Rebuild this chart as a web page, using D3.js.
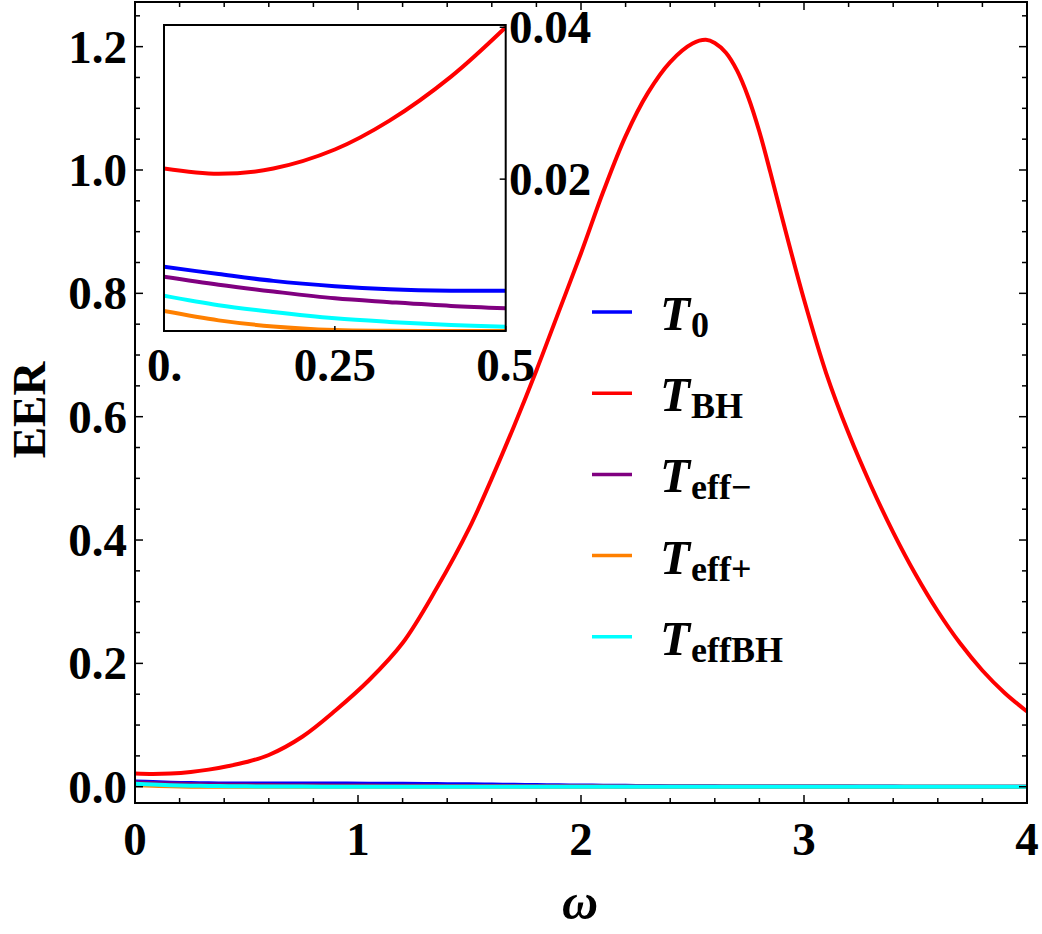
<!DOCTYPE html>
<html>
<head>
<meta charset="utf-8">
<script src="https://cdn.jsdelivr.net/npm/d3@7"></script>
<style>
  html, body { margin: 0; padding: 0; background: #fff; }
  svg text { font-family: "Liberation Serif", "Times New Roman", serif; }
</style>
</head>
<body>
<div id="chart"></div>
<script>
// --- data ---
const omega = [0, 0.08, 0.16, 0.25, 0.33, 0.42, 0.5, 0.6, 0.75, 0.9, 1.05, 1.2, 1.35, 1.5, 1.6, 1.7, 1.8, 1.9,
               2.0, 2.1, 2.2, 2.3, 2.4, 2.5,
               2.56, 2.6, 2.65, 2.7, 2.75, 2.8, 2.85, 2.9,
               3.0, 3.1, 3.2, 3.3, 3.4, 3.5, 3.6, 3.7, 3.8, 3.9, 4.0];
const eerT0 = [0.00846, 0.0075, 0.0066, 0.0059, 0.0055, 0.0053, 0.0053, 0.0052, 0.0052, 0.0051, 0.005, 0.0047, 0.0043, 0.0039, 0.0035, 0.0031, 0.0027, 0.0023,
               0.002, 0.0017, 0.0014, 0.0011, 0.0009, 0.0007,
               0.0006, 0.0006, 0.0005, 0.0005, 0.0004, 0.0004, 0.0004, 0.0003,
               0.0003, 0.0002, 0.0002, 0.0002, 0.0002, 0.0001, 0.0001, 0.0001, 0.0001, 0.0001, 0.0001];
const eerTBH = [0.0214, 0.0207, 0.0214, 0.0239, 0.0277, 0.0335, 0.04, 0.0514, 0.081, 0.124, 0.173, 0.233, 0.32, 0.42, 0.5, 0.585, 0.675, 0.77,
                0.865, 0.965, 1.055, 1.125, 1.175, 1.205,
                1.211, 1.206, 1.19, 1.161, 1.118, 1.062, 0.995, 0.925,
                0.79, 0.67, 0.573, 0.4885, 0.4125, 0.3445, 0.2845, 0.2325, 0.1885, 0.152, 0.122];
const eerTeffMinus = [0.00715, 0.0061, 0.0052, 0.0043, 0.0038, 0.0033, 0.003, 0.0027, 0.0024, 0.0021, 0.0019, 0.0016, 0.0014, 0.0012, 0.0011, 0.001, 0.0009, 0.0008,
                      0.0007, 0.0006, 0.0005, 0.0004, 0.0004, 0.0003,
                      0.0003, 0.0003, 0.0003, 0.0003, 0.0003, 0.0003, 0.0003, 0.0003,
                      0.0002, 0.0002, 0.0002, 0.0001, 0.0001, 0.0001, 0.0001, 0.0001, 0.0001, 0.0001, 0.0001];
const eerTeffPlus = [0.00263, 0.0014, 0.0006, 0.00013, 0.00003, 0, 0, 0, 0, 0, 0, 0, 0, 0, 0, 0, 0, 0,
                     0, 0, 0, 0, 0, 0,
                     0, 0, 0, 0, 0, 0, 0, 0,
                     0, 0, 0, 0, 0, 0, 0, 0, 0, 0, 0];
const eerTeffBH = [0.00465, 0.0034, 0.0025, 0.00167, 0.0012, 0.0008, 0.00057, 0.0004, 0.0002, 0.0001, 0.0001, 0.0001, 0, 0, 0, 0, 0, 0,
                   0, 0, 0, 0, 0, 0,
                   0, 0, 0, 0, 0, 0, 0, 0,
                   0, 0, 0, 0, 0, 0, 0, 0, 0, 0, 0];

const seriesNames  = ["0", "BH", "eff\u2212", "eff+", "effBH"];
const seriesColors = ["#0000ff", "#ff0000", "#800080", "#ff8000", "#00ffff"];
const seriesValues = [eerT0, eerTBH, eerTeffMinus, eerTeffPlus, eerTeffBH];

const xTicks = [0, 1, 2, 3, 4];
const yTicks = [0, 0.2, 0.4, 0.6, 0.8, 1.0, 1.2];
const insetXTicks = [0, 0.25, 0.5];
const insetXLabels = ["0.", "0.25", "0.5"];
const insetYTicks = [0.02, 0.04];

const W = 1042, H = 934;
const svg = d3.select("#chart").append("svg").attr("width", W).attr("height", H);

// main frame
const pL = 135, pR = 1027, pT = 2, pB = 803;
const x = d3.scaleLinear().domain([0, 4]).range([pL, pR]);
const y = d3.scaleLinear().domain([-0.0264, 1.2724]).range([pB, pT]);

const defs = svg.append("defs");
defs.append("clipPath").attr("id", "clip-main")
    .append("rect").attr("x", pL).attr("y", pT).attr("width", pR - pL).attr("height", pB - pT);

const serie = (vals, maxW) => omega.map((w, i) => ({ w, v: vals[i] })).filter(d => d.w <= maxW + 1e-9);

const mainLine = d3.line().x(d => x(d.w)).y(d => y(d.v)).curve(d3.curveCatmullRom.alpha(0.5));
const curves = svg.append("g").attr("clip-path", "url(#clip-main)");
seriesValues.forEach((vals, i) => {
    curves.append("path").datum(serie(vals, 4))
        .attr("d", mainLine).attr("fill", "none")
        .attr("stroke", seriesColors[i]).attr("stroke-width", 4);
});

// axes with inward ticks on all sides
const minorX = d3.range(0, 4.0001, 0.2);
const minorY = d3.range(0, 1.2501, 0.05);
const tickG = svg.append("g").attr("stroke", "#000").attr("stroke-width", 1.5);
minorX.forEach(t => {
    const len = xTicks.some(m => Math.abs(m - t) < 1e-6) ? 8 : 5;
    tickG.append("line").attr("x1", x(t)).attr("x2", x(t)).attr("y1", pB).attr("y2", pB - len);
    tickG.append("line").attr("x1", x(t)).attr("x2", x(t)).attr("y1", pT).attr("y2", pT + len);
});
minorY.forEach(t => {
    const len = yTicks.some(m => Math.abs(m - t) < 1e-6) ? 8 : 5;
    tickG.append("line").attr("x1", pL).attr("x2", pL + len).attr("y1", y(t)).attr("y2", y(t));
    tickG.append("line").attr("x1", pR).attr("x2", pR - len).attr("y1", y(t)).attr("y2", y(t));
});
svg.append("rect").attr("x", pL).attr("y", pT).attr("width", pR - pL).attr("height", pB - pT)
    .attr("fill", "none").attr("stroke", "#000").attr("stroke-width", 2);

svg.append("g").selectAll("text").data(xTicks).join("text")
    .attr("x", d => x(d)).attr("y", 855).attr("text-anchor", "middle")
    .style("font-size", "47px").style("font-weight", "bold").text(d => d);
svg.append("g").selectAll("text").data(yTicks).join("text")
    .attr("x", 127).attr("y", d => y(d) + 16).attr("text-anchor", "end")
    .style("font-size", "47px").style("font-weight", "bold").text(d => d.toFixed(1));

svg.append("text").attr("x", 580).attr("y", 919).attr("text-anchor", "middle")
    .style("font-size", "50px").style("font-weight", "bold").style("font-style", "italic").text("ω");
svg.append("text").attr("transform", "translate(45,410) rotate(-90)").attr("text-anchor", "middle")
    .style("font-size", "47px").style("font-weight", "bold").text("EER");

// --- inset ---
const iL = 164, iR = 505.7, iT = 25, iB = 331;
const ix = d3.scaleLinear().domain([0, 0.5]).range([iL, iR]);
const iy = d3.scaleLinear().domain([0, 0.0403]).range([iB, iT]);
defs.append("clipPath").attr("id", "clip-inset")
    .append("rect").attr("x", iL).attr("y", iT).attr("width", iR - iL).attr("height", iB - iT);

const insetG = svg.append("g");
insetG.append("rect").attr("x", iL).attr("y", iT).attr("width", iR - iL).attr("height", iB - iT).attr("fill", "#fff");
const insetLine = d3.line().x(d => ix(d.w)).y(d => iy(d.v)).curve(d3.curveCatmullRom.alpha(0.5));
const insetCurves = insetG.append("g").attr("clip-path", "url(#clip-inset)");
seriesValues.forEach((vals, i) => {
    insetCurves.append("path").datum(serie(vals, 0.5))
        .attr("d", insetLine).attr("fill", "none")
        .attr("stroke", seriesColors[i]).attr("stroke-width", 4);
});
insetXTicks.forEach(t => {
    insetG.append("line").attr("x1", ix(t)).attr("x2", ix(t)).attr("y1", iB).attr("y2", iB - 5)
        .attr("stroke", "#000").attr("stroke-width", 1.5);
});
insetYTicks.forEach(t => {
    insetG.append("line").attr("x1", iR).attr("x2", iR - 6).attr("y1", iy(t)).attr("y2", iy(t))
        .attr("stroke", "#000").attr("stroke-width", 1.5);
});
insetG.append("rect").attr("x", iL).attr("y", iT).attr("width", iR - iL).attr("height", iB - iT)
    .attr("fill", "none").attr("stroke", "#000").attr("stroke-width", 2);

insetG.selectAll("text.ixl").data(insetXTicks).join("text").attr("class", "ixl")
    .attr("x", (d, i) => i === 0 ? ix(d) - 17 : ix(d)).attr("y", 381)
    .attr("text-anchor", (d, i) => i === 0 ? "start" : "middle")
    .style("font-size", "47px").style("font-weight", "bold").text((d, i) => insetXLabels[i]);
insetG.selectAll("text.iyl").data(insetYTicks).join("text").attr("class", "iyl")
    .attr("x", 509).attr("y", d => iy(d) + 16)
    .style("font-size", "47px").style("font-weight", "bold").text(d => d.toFixed(2));

// --- legend ---
const legY0 = 312, legStep = 81.2;
const legend = svg.append("g");
seriesNames.forEach((name, i) => {
    const ly = legY0 + i * legStep;
    legend.append("line").attr("x1", 592).attr("x2", 632).attr("y1", ly).attr("y2", ly)
        .attr("stroke", seriesColors[i]).attr("stroke-width", 3.5);
    const t = legend.append("text").attr("x", 660).attr("y", ly + 18)
        .style("font-size", "49px").style("font-weight", "bold");
    t.append("tspan").style("font-style", "italic").text("T");
    t.append("tspan").attr("dx", 1).attr("dy", 7).style("font-size", "36px").text(name);
});
</script>
</body>
</html>
